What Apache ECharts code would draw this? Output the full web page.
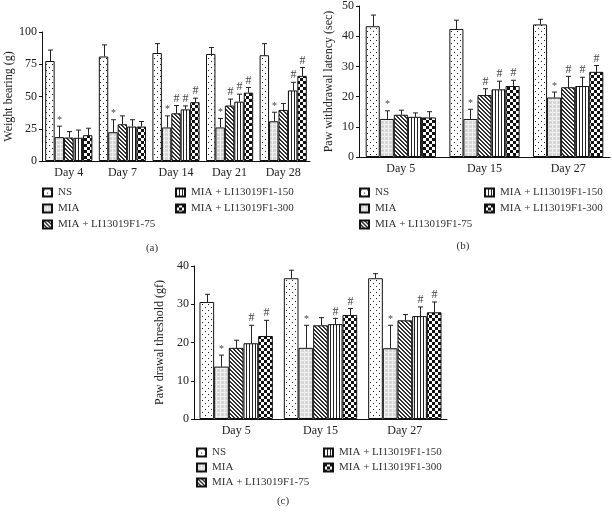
<!DOCTYPE html>
<html>
<head>
<meta charset="utf-8">
<script src="https://cdn.jsdelivr.net/npm/echarts@6/dist/echarts.min.js"></script>
<style>
html, body { margin: 0; padding: 0; background: #fff; }
#chart { width: 612px; height: 512px; }
</style>
</head>
<body>
<div id="chart"></div>
<script>
// treatment groups (same in all three panels)
const groups = ['NS', 'MIA', 'MIA + LI13019F1-75', 'MIA + LI13019F1-150', 'MIA + LI13019F1-300']

// (a) weight bearing
const daysA = ['Day 4', 'Day 7', 'Day 14', 'Day 21', 'Day 28']
const meansA = [
  [77.5, 81, 83.7, 83, 82],
  [18.5, 22.3, 26, 26, 30.8],
  [18.2, 28.5, 37, 43, 39.6],
  [18, 26.7, 40, 46, 54.7],
  [20, 26.7, 45.6, 53, 66]
]
const errA = [
  [86, 90, 91, 88, 91],
  [27, 32, 35, 33, 37.8],
  [22.8, 35, 43, 48, 44.6],
  [24, 32, 42.7, 51.8, 61],
  [25.4, 30.6, 48.7, 57, 72.5]
]
const marksA = [
  ['', '', '', '', ''],
  ['*', '*', '*', '*', '*'],
  ['', '', '#', '#', ''],
  ['', '', '#', '#', '#'],
  ['', '', '#', '#', '#']
]

// (b) paw withdrawal latency
const daysB = ['Day 5', 'Day 15', 'Day 27']
const meansB = [
  [43.3, 42.4, 43.9],
  [12.6, 12.6, 19.7],
  [14, 20.5, 23.1],
  [13.3, 22.4, 23.5],
  [13.1, 23.5, 28.2]
]
const errB = [
  [47, 45.3, 45.6],
  [15.3, 15.8, 21.5],
  [15.5, 22.6, 26.7],
  [14.6, 25.1, 26.4],
  [15, 25.4, 30.3]
]
const marksB = [
  ['', '', ''],
  ['*', '*', '*'],
  ['', '#', '#'],
  ['', '#', '#'],
  ['', '#', '#']
]

// (c) paw drawal threshold
const daysC = ['Day 5', 'Day 15', 'Day 27']
const meansC = [
  [30.6, 36.8, 36.8],
  [13.7, 18.6, 18.5],
  [18.6, 24.5, 25.8],
  [19.8, 24.8, 26.9],
  [21.7, 27.2, 27.9]
]
const errC = [
  [32.6, 38.9, 38],
  [16.7, 24.5, 24.5],
  [20.6, 26.5, 27.3],
  [24.5, 26.3, 29.3],
  [25.8, 28.9, 30.6]
]
const marksC = [
  ['', '', ''],
  ['*', '*', '*'],
  ['', '', ''],
  ['#', '#', '#'],
  ['#', '#', '#']
]

const FONT = '"Liberation Serif", "DejaVu Serif", serif'

function makePattern(kind) {
  var c = document.createElement('canvas')
  var ctx = c.getContext('2d')
  var i
  if (kind === 'dots') {
    c.width = 6; c.height = 6
    ctx.fillStyle = '#fff'; ctx.fillRect(0, 0, 6, 6)
    ctx.fillStyle = '#222'
    ctx.fillRect(1, 1, 1, 1); ctx.fillRect(4, 4, 1, 1)
  } else if (kind === 'grid') {
    c.width = 4; c.height = 4
    ctx.fillStyle = '#d6d6d6'; ctx.fillRect(0, 0, 4, 4)
    ctx.fillStyle = '#f0f0f0'
    ctx.fillRect(0, 0, 4, 1); ctx.fillRect(0, 0, 1, 4)
  } else if (kind === 'diag') {
    c.width = 4; c.height = 4
    ctx.fillStyle = '#fff'; ctx.fillRect(0, 0, 4, 4)
    ctx.fillStyle = '#333'
    for (i = 0; i < 4; i++) { ctx.fillRect(i, i, 1, 1); ctx.fillRect((i + 1) % 4, i, 1, 1) }
  } else if (kind === 'vert') {
    c.width = 3; c.height = 1
    ctx.fillStyle = '#fff'; ctx.fillRect(0, 0, 3, 1)
    ctx.fillStyle = '#222'; ctx.fillRect(0, 0, 1, 1)
  } else {
    c.width = 6; c.height = 6
    ctx.fillStyle = '#fff'; ctx.fillRect(0, 0, 6, 6)
    ctx.fillStyle = '#111'
    ctx.fillRect(0, 0, 3, 3); ctx.fillRect(3, 3, 3, 3)
  }
  return { image: c, repeat: 'repeat' }
}

const fills = ['dots', 'grid', 'diag', 'vert', 'check'].map(makePattern)

const panels = [
  { days: daysA, means: meansA, err: errA, marks: marksA, max: 100, interval: 25,
    name: 'Weight bearing (g)', nameGap: 27, gap: 0.12,
    grid: { left: 42, top: 32, width: 268, height: 129 } },
  { days: daysB, means: meansB, err: errB, marks: marksB, max: 50, interval: 10,
    name: 'Paw withdrawal latency (sec)', nameGap: 24, gap: 0.16,
    grid: { left: 359, top: 4, width: 251, height: 153 } },
  { days: daysC, means: meansC, err: errC, marks: marksC, max: 40, interval: 10,
    name: 'Paw drawal threshold (gf)', nameGap: 28, gap: 0.13,
    grid: { left: 194, top: 266, width: 253, height: 153 } }
]

function errRender(i, gap, marks) {
  return function (params, api) {
    var cat = api.value(0)
    var base = api.coord([cat, api.value(1)])
    var top = api.coord([cat, api.value(2)])
    var band = api.size([1, 0])[0]
    var used = band * (1 - gap)
    var bw = used / 5
    var x = Math.round(base[0] - used / 2 + bw * (i + 0.5)) + 0.5
    var cap = 2.5
    var kids = [
      { type: 'line', shape: { x1: x, y1: base[1], x2: x, y2: top[1] }, style: { stroke: '#222', lineWidth: 1 } },
      { type: 'line', shape: { x1: x - cap, y1: top[1], x2: x + cap, y2: top[1] }, style: { stroke: '#222', lineWidth: 1 } }
    ]
    var m = marks[i][params.dataIndex]
    if (m) {
      kids.push({ type: 'text', style: {
        text: m, x: x, y: top[1] - 1, align: 'center', verticalAlign: 'bottom',
        font: (m === '*' ? '10px ' : '12px ') + FONT, fill: '#444' } })
    }
    return { type: 'group', children: kids }
  }
}

const grids = [], xAxes = [], yAxes = [], series = []
panels.forEach(function (p, pi) {
  grids.push(p.grid)
  xAxes.push({
    type: 'category', gridIndex: pi, data: p.days,
    axisLine: { lineStyle: { color: '#111', width: 1 } },
    axisTick: { show: false },
    axisLabel: { fontFamily: FONT, fontSize: 12, color: '#222', margin: 6 }
  })
  yAxes.push({
    type: 'value', gridIndex: pi, min: 0, max: p.max, interval: p.interval,
    name: p.name, nameLocation: 'middle', nameGap: p.nameGap, nameRotate: 90,
    nameTextStyle: { fontFamily: FONT, fontSize: 12, color: '#222' },
    axisLine: { show: true, lineStyle: { color: '#111', width: 1 } },
    axisTick: { show: true, length: 3, lineStyle: { color: '#111' } },
    splitLine: { show: false },
    axisLabel: { fontFamily: FONT, fontSize: 12, color: '#222', margin: 5 }
  })
  groups.forEach(function (g, i) {
    series.push({
      name: g, type: 'bar', xAxisIndex: pi, yAxisIndex: pi,
      data: p.means[i], barGap: '0%', barCategoryGap: (p.gap * 100) + '%',
      itemStyle: { color: fills[i], borderColor: '#111', borderWidth: 1 },
      silent: true
    })
    series.push({
      type: 'custom', xAxisIndex: pi, yAxisIndex: pi, z: 5, silent: true,
      data: p.days.map(function (d, k) { return [k, p.means[i][k], p.err[i][k]] }),
      renderItem: errRender(i, p.gap, p.marks)
    })
  })
})

function legend(items, left, top, gap) {
  return {
    data: items, orient: 'vertical', left: left, top: top,
    icon: 'rect', itemWidth: 9, itemHeight: 8, itemGap: gap,
    selectedMode: false, padding: 0,
    textStyle: { fontFamily: FONT, fontSize: 11, color: '#333', padding: [0, 0, 0, 1] }
  }
}

const legends = [
  legend(groups.slice(0, 3), 42, 187, 5),
  legend(groups.slice(3), 175, 187, 5),
  legend(groups.slice(0, 3), 359, 187, 5),
  legend(groups.slice(3), 484, 187, 5),
  legend(groups.slice(0, 3), 196, 447, 4),
  legend(groups.slice(3), 323, 447, 4)
]

function tag(t, x, y) {
  return { type: 'text', x: x, y: y, style: { text: t, align: 'center', verticalAlign: 'middle', font: '11px ' + FONT, fill: '#333' } }
}

var myChart = echarts.init(document.getElementById('chart'))
myChart.setOption({
  animation: false,
  backgroundColor: '#fff',
  grid: grids,
  xAxis: xAxes,
  yAxis: yAxes,
  legend: legends,
  series: series,
  graphic: [tag('(a)', 152, 248), tag('(b)', 463, 246), tag('(c)', 283, 501)]
})
</script>
</body>
</html>
